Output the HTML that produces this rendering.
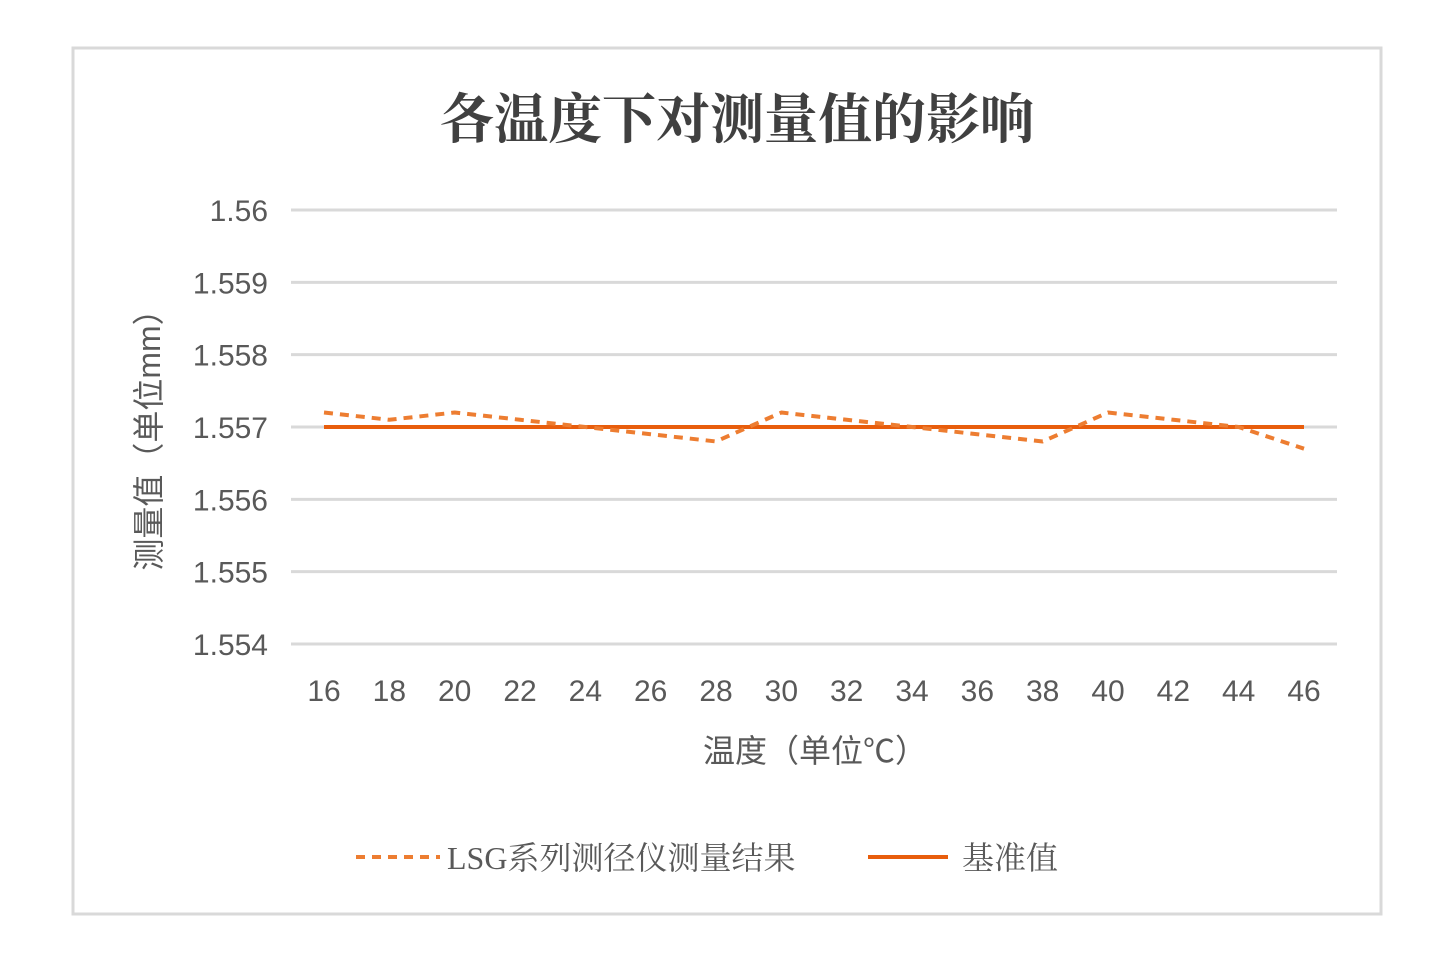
<!DOCTYPE html>
<html><head><meta charset="utf-8"><style>
body{margin:0;background:#fff;width:1454px;height:964px;overflow:hidden}
svg{display:block;font-family:"Liberation Sans","Noto Sans CJK SC",sans-serif}
</style></head><body>
<svg id="c" width="1454" height="964">
<rect x="73" y="48" width="1308" height="866" fill="#fff" stroke="#d9d9d9" stroke-width="3"/>
<text x="737" y="138" text-anchor="middle" font-size="54" font-weight="bold" fill="#404040" font-family="'Noto Serif CJK SC','Noto Sans CJK SC',serif">各温度下对测量值的影响</text>
<g id="grid"></g><g id="series"></g>
<text transform="translate(160,432) rotate(-90)" text-anchor="middle" font-size="32" fill="#595959">测量值（单位mm）</text>
<text x="815" y="762" text-anchor="middle" font-size="32" fill="#595959">温度（单位℃）</text>
<g>
<line x1="356" y1="857" x2="440" y2="857" stroke="#ED7D31" stroke-width="4" stroke-dasharray="9,7"/>
<text x="447" y="869" font-size="32" fill="#595959" font-family="'Liberation Serif','Noto Serif CJK SC',serif">LSG系列测径仪测量结果</text>
<line x1="868" y1="857" x2="948" y2="857" stroke="#E85D0C" stroke-width="4"/>
<text x="962" y="869" font-size="32" fill="#595959" font-family="'Noto Serif CJK SC',serif">基准值</text>
</g>
</svg>
<script>
const categories=[16,18,20,22,24,26,28,30,32,34,36,38,40,42,44,46];
const measured=[1.5572,1.5571,1.5572,1.5571,1.5570,1.5569,1.5568,1.5572,1.5571,1.5570,1.5569,1.5568,1.5572,1.5571,1.5570,1.5567];
const baseline=[1.557,1.557,1.557,1.557,1.557,1.557,1.557,1.557,1.557,1.557,1.557,1.557,1.557,1.557,1.557,1.557];
const yTicks=[1.554,1.555,1.556,1.557,1.558,1.559,1.56];
const yTickLabels=["1.554","1.555","1.556","1.557","1.558","1.559","1.56"];
const NS="http://www.w3.org/2000/svg";
const y=v=>644-(v-1.554)/0.006*434;
const x=i=>324+i*(1304-324)/(categories.length-1);
const grid=document.getElementById('grid'),ser=document.getElementById('series');
yTicks.forEach((t,i)=>{
 const l=document.createElementNS(NS,'line');
 l.setAttribute('x1',291);l.setAttribute('x2',1337);l.setAttribute('y1',y(t));l.setAttribute('y2',y(t));
 l.setAttribute('stroke','#d9d9d9');l.setAttribute('stroke-width',3);
 
 
 grid.appendChild(l);
 const tx=document.createElementNS(NS,'text');
 tx.setAttribute('x',268);tx.setAttribute('y',y(t)+11);tx.setAttribute('text-anchor','end');
 tx.setAttribute('font-size',30);tx.setAttribute('fill','#595959');tx.textContent=yTickLabels[i];
 
 
 grid.appendChild(tx);
});
categories.forEach((c,i)=>{
 const tx=document.createElementNS(NS,'text');
 tx.setAttribute('x',x(i));tx.setAttribute('y',701);tx.setAttribute('text-anchor','middle');
 tx.setAttribute('font-size',30);tx.setAttribute('fill','#595959');tx.textContent=c;
 
 
 grid.appendChild(tx);
});
function line(vals,color,dash,name){
 const p=document.createElementNS(NS,'polyline');
 p.setAttribute('points',vals.map((v,i)=>x(i)+','+y(v)).join(' '));
 p.setAttribute('fill','none');p.setAttribute('stroke',color);p.setAttribute('stroke-width',4);
 p.setAttribute('stroke-linejoin','round');
 if(dash)p.setAttribute('stroke-dasharray',dash);
 
 
 ser.appendChild(p);
}
line(baseline,'#E85D0C',null,'baseline-line');
line(measured,'#ED7D31','9,7','measured-line');
</script>
</body></html>
